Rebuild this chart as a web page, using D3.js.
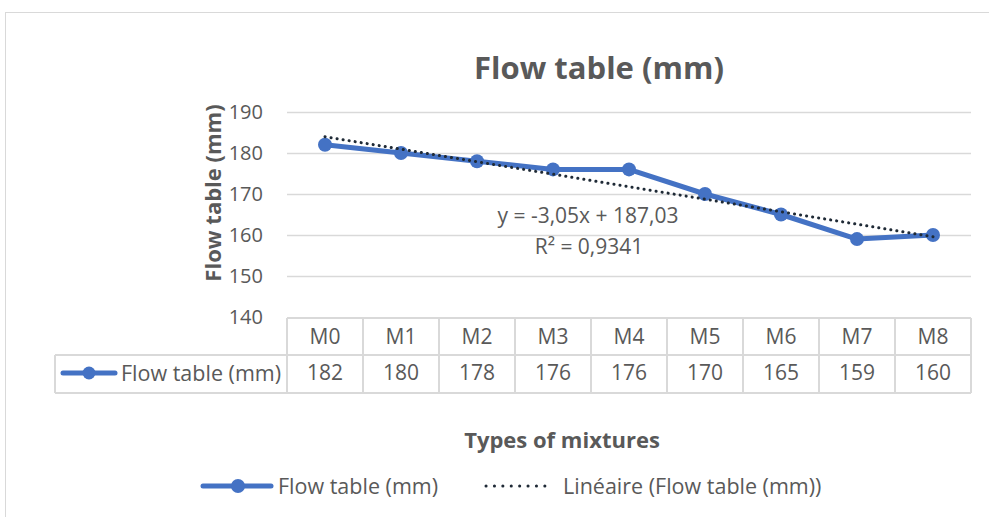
<!DOCTYPE html>
<html>
<head>
<meta charset="utf-8">
<script src="https://cdn.jsdelivr.net/npm/d3@7"></script>
<style>
  body { margin: 0; background: #fff; }
  text { font-family: "Open Sans", "Noto Sans", sans-serif; fill: #595959; }
</style>
</head>
<body>
<script>
var categories = ["M0", "M1", "M2", "M3", "M4", "M5", "M6", "M7", "M8"];
var flowValues = [182, 180, 178, 176, 176, 170, 165, 159, 160];
var yTicks = [140, 150, 160, 170, 180, 190];
var seriesName = "Flow table (mm)";
var trendName = "Linéaire (Flow table (mm))";
var trendSlope = -3.05;
var trendIntercept = 187.03;
var equationText = "y = -3,05x + 187,03";
var r2Text = "R² = 0,9341";

var w = 989, h = 517;
var blue = "#4472C4", grid = "#d9d9d9", dotColor = "#1f2a36";

var svg = d3.select("body").append("svg")
    .attr("width", w)
    .attr("height", h);

// chart frame
svg.append("rect")
    .attr("x", 5.5).attr("y", 12.5)
    .attr("width", 1000).attr("height", 520)
    .attr("fill", "#fff").attr("stroke", grid);

var x = d3.scaleBand().domain(categories).range([287, 971]);
var y = d3.scaleLinear().domain([140, 190]).range([317, 112]);

// gridlines
svg.append("g").selectAll("line")
    .data(yTicks.filter(function(d) { return d > 140; }))
    .enter().append("line")
    .attr("x1", 287).attr("x2", 971)
    .attr("y1", function(d) { return y(d) + 0.5; })
    .attr("y2", function(d) { return y(d) + 0.5; })
    .attr("stroke", grid).attr("stroke-width", 1.5);

// y tick labels
svg.append("g").selectAll("text")
    .data(yTicks)
    .enter().append("text")
    .attr("x", 263)
    .attr("y", function(d) { return y(d); })
    .attr("dy", "0.35em")
    .attr("text-anchor", "end")
    .attr("font-size", "20px")
    .text(function(d) { return d; });

// data table
var rowTop = 318, rowMid = 355, rowBot = 393, legendLeft = 55;
var tbl = svg.append("g").attr("stroke", grid).attr("stroke-width", 2).attr("fill", "none");
tbl.append("line").attr("x1", 287).attr("x2", 971).attr("y1", rowTop).attr("y2", rowTop);
tbl.append("line").attr("x1", legendLeft).attr("x2", 971).attr("y1", rowMid).attr("y2", rowMid);
tbl.append("line").attr("x1", legendLeft).attr("x2", 971).attr("y1", rowBot).attr("y2", rowBot);
tbl.append("line").attr("x1", legendLeft).attr("x2", legendLeft).attr("y1", rowMid).attr("y2", rowBot);
tbl.selectAll(".v")
    .data(categories.concat(["end"]))
    .enter().append("line")
    .attr("x1", function(d, i) { return i < categories.length ? x(d) : x.range()[1]; })
    .attr("x2", function(d, i) { return i < categories.length ? x(d) : x.range()[1]; })
    .attr("y1", rowTop).attr("y2", rowBot);

svg.append("g").selectAll("text")
    .data(categories)
    .enter().append("text")
    .attr("x", function(d) { return x(d) + x.bandwidth() / 2; })
    .attr("y", 337)
    .attr("dy", "0.35em")
    .attr("text-anchor", "middle")
    .attr("font-size", "21px")
    .text(function(d) { return d; });

svg.append("g").selectAll("text")
    .data(flowValues)
    .enter().append("text")
    .attr("x", function(d, i) { return x(categories[i]) + x.bandwidth() / 2; })
    .attr("y", 373)
    .attr("dy", "0.35em")
    .attr("text-anchor", "middle")
    .attr("font-size", "21px")
    .text(function(d) { return d; });

// legend key in table
var lk = svg.append("g");
lk.append("line").attr("x1", 63).attr("x2", 115).attr("y1", 373).attr("y2", 373)
    .attr("stroke", blue).attr("stroke-width", 5).attr("stroke-linecap", "round");
lk.append("circle").attr("cx", 89).attr("cy", 373).attr("r", 6.5).attr("fill", blue);
lk.append("text").attr("x", 121).attr("y", 373).attr("dy", "0.35em")
    .attr("font-size", "21.5px").text(seriesName);

// series line
var cx = function(i) { return x(categories[i]) + x.bandwidth() / 2; };
var line = d3.line()
    .x(function(d, i) { return cx(i); })
    .y(function(d) { return y(d); });

svg.append("path")
    .datum(flowValues)
    .attr("d", line)
    .attr("fill", "none")
    .attr("stroke", blue)
    .attr("stroke-width", 5)
    .attr("stroke-linejoin", "round");

svg.append("g").selectAll("circle")
    .data(flowValues)
    .enter().append("circle")
    .attr("cx", function(d, i) { return cx(i); })
    .attr("cy", function(d) { return y(d); })
    .attr("r", 7)
    .attr("fill", blue);

// trend line
var trend = categories.map(function(d, i) { return trendSlope * (i + 1) + trendIntercept; });
svg.append("path")
    .datum(trend)
    .attr("d", line)
    .attr("fill", "none")
    .attr("stroke", dotColor)
    .attr("stroke-width", 3)
    .attr("stroke-dasharray", "0.1 6")
    .attr("stroke-linecap", "round");

// equation
svg.append("text").attr("x", 588).attr("y", 216).attr("dy", "0.35em")
    .attr("text-anchor", "middle").attr("font-size", "21px").text(equationText);
svg.append("text").attr("x", 589).attr("y", 247).attr("dy", "0.35em")
    .attr("text-anchor", "middle").attr("font-size", "21px").text(r2Text);

// titles
svg.append("text").attr("x", 599).attr("y", 68).attr("dy", "0.35em")
    .attr("text-anchor", "middle").attr("font-size", "31px").attr("font-weight", "bold")
    .text("Flow table (mm)");

svg.append("text")
    .attr("transform", "translate(213,193) rotate(-90)")
    .attr("dy", "0.35em")
    .attr("text-anchor", "middle").attr("font-size", "22px").attr("font-weight", "bold")
    .text("Flow table (mm)");

svg.append("text").attr("x", 562).attr("y", 440).attr("dy", "0.35em")
    .attr("text-anchor", "middle").attr("font-size", "22px").attr("font-weight", "bold")
    .text("Types of mixtures");

// legend
var lg = svg.append("g");
lg.append("line").attr("x1", 203).attr("x2", 271).attr("y1", 486).attr("y2", 486)
    .attr("stroke", blue).attr("stroke-width", 5).attr("stroke-linecap", "round");
lg.append("circle").attr("cx", 238).attr("cy", 486).attr("r", 7).attr("fill", blue);
lg.append("text").attr("x", 278).attr("y", 486).attr("dy", "0.35em")
    .attr("font-size", "21.5px").text(seriesName);
lg.append("line").attr("x1", 486).attr("x2", 553).attr("y1", 486).attr("y2", 486)
    .attr("stroke", dotColor).attr("stroke-width", 3)
    .attr("stroke-dasharray", "0.1 8.3").attr("stroke-linecap", "round");
lg.append("text").attr("x", 563).attr("y", 486).attr("dy", "0.35em")
    .attr("font-size", "21.5px").text(trendName);
</script>
</body>
</html>
